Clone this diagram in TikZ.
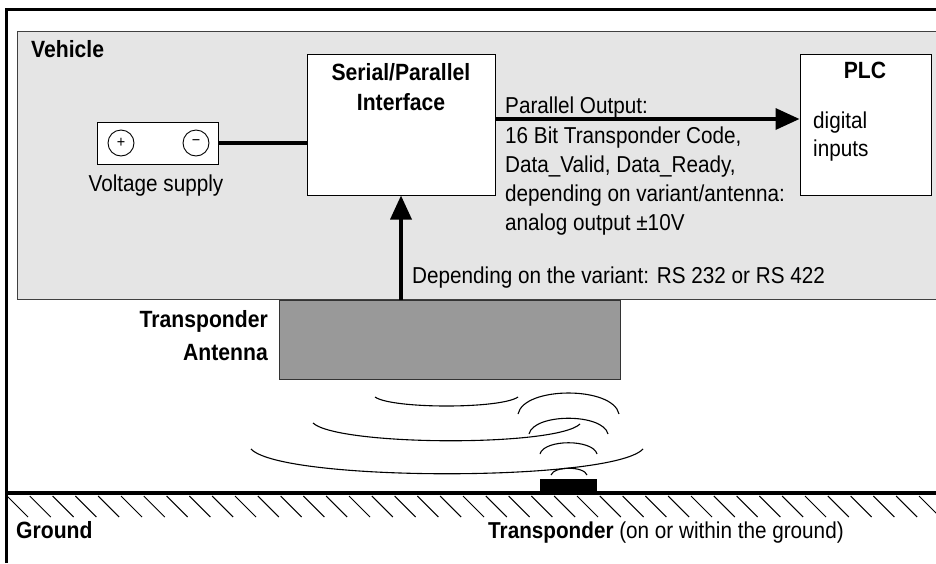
\documentclass[tikz,border=0pt]{standalone}
\usepackage{fontspec}
\setmainfont[FakeStretch=0.9]{Liberation Sans}
\usetikzlibrary{arrows.meta}
\begin{document}
\begin{tikzpicture}[x=1pt,y=-1pt,
  txt/.style={inner sep=0pt, font=\fontsize{23}{29}\selectfont},
  btxt/.style={inner sep=0pt, font=\fontsize{23.5}{29}\selectfont\bfseries},
  box/.style={draw=black, line width=1pt, fill=white, inner sep=0pt},
  conn/.style={line width=3.5pt},
  tip/.style={-{Triangle[length=24pt,width=21pt]}},
  wave/.style={line width=1.1pt},
  sign/.style={circle, draw=black, line width=0.9pt, minimum size=26pt, inner sep=0pt, font=\fontsize{16}{16}\selectfont}
]
\useasboundingbox (0,0) rectangle (936,563);
% outer frame
\draw[line width=3pt] (6,563) -- (6,9) -- (940,9);
% vehicle area
\node[draw=black!75, fill=black!10, line width=1pt, minimum width=930pt, minimum height=268pt, anchor=north west, inner sep=0pt] (vehicle) at (17,31) {};
\node[btxt, anchor=base west] (vlabel) at (31,57) {Vehicle};
% serial/parallel interface
\node[box, minimum width=188pt, minimum height=141pt] (serial) at (401,124.5) {};
\node[btxt, anchor=base] (sl1) at (401,80) {Serial/Parallel};
\node[btxt, anchor=base] (sl2) at (401,110) {Interface};
% PLC
\node[box, minimum width=131pt, minimum height=141pt] (plc) at (865.5,124.5) {};
\node[btxt, anchor=base] (plcl) at (865,78) {PLC};
\node[txt, anchor=base west] (dig1) at (813,128) {digital};
\node[txt, anchor=base west] (dig2) at (813,156) {inputs};
% voltage supply
\node[box, minimum width=121pt, minimum height=42pt] (volt) at (157.5,143) {};
\node[sign] (plus) at (121,143) {+};
\node[sign] (minus) at (196,143) {−};
\node[txt, anchor=base] (vs) at (156,191) {Voltage supply};
\draw[conn] (volt.east) -- (volt.east -| serial.west);
% parallel output
\draw[conn,tip] ([yshift=5.5pt]serial.east) -- ([yshift=5.5pt]plc.west);
\node[txt, anchor=base west] (po) at (505,113) {Parallel Output:};
\node[txt, anchor=base west] (pd1) at (505,143) {16 Bit Transponder Code,};
\node[txt, anchor=base west] (pd2) at (505,172) {Data\_Valid, Data\_Ready,};
\node[txt, anchor=base west] (pd3) at (505,201) {depending on variant/antenna:};
\node[txt, anchor=base west] (pd4) at (505,230) {analog output ±10V};
% antenna
\node[draw=black!80, fill=black!40, line width=1pt, minimum width=341pt, minimum height=79pt, anchor=north west, inner sep=0pt] (antenna) at (279,300) {};
\node[btxt, anchor=base east] (al1) at (268,327) {Transponder};
\node[btxt, anchor=base east] (al2) at (268,360) {Antenna};
\draw[conn,tip] (serial.south |- antenna.north) -- (serial.south);
\node[txt, anchor=base west] (rs) at (412,283) {Depending on the variant: RS 232 or RS 422};
% waves from antenna
\draw[wave] (375,397) .. controls (392,409) and (501,409) .. (518,397);
\draw[wave] (313,423) .. controls (338,446) and (556,447) .. (580,424);
\draw[wave] (251,449) .. controls (282,482) and (612,482) .. (643,449);
% waves from transponder
\draw[wave] (518,414) .. controls (524,386) and (613,386) .. (619,414);
\draw[wave] (529,434) .. controls (534,413) and (603,413) .. (608,434);
\draw[wave] (540,454) .. controls (544,439) and (593,439) .. (597,454);
\draw[wave] (551,475) .. controls (554,466) and (584,466) .. (587,475);
% ground
\foreach \i in {0,...,41} \draw[line width=1pt] (7+22.8*\i,496) -- ++(21,21);
\draw[line width=4pt] (6,493) -- (940,493);
\node[fill=black, minimum width=57pt, minimum height=14pt, inner sep=0pt, anchor=south west] (chip) at (540,493) {};
\node[btxt, anchor=base west] (gl) at (16,538) {Ground};
\node[txt, anchor=base west] (tl) at (488,538) {\bfseries Transponder \mdseries(on or within the ground)};
\end{tikzpicture}
\end{document}
